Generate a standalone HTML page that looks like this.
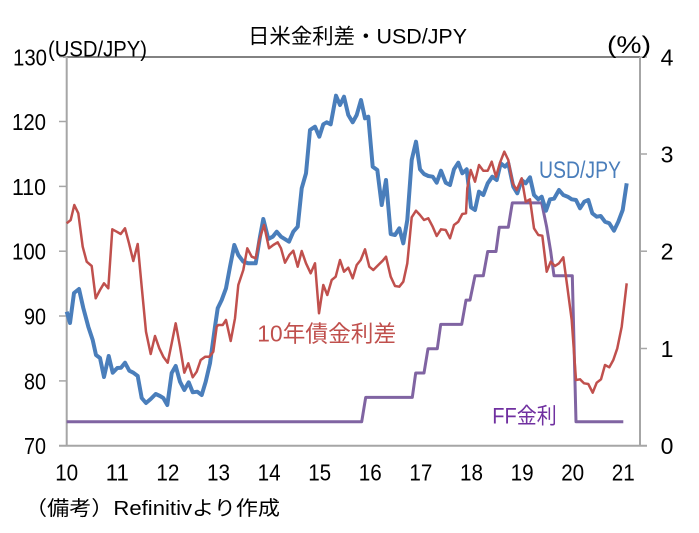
<!DOCTYPE html>
<html><head><meta charset="utf-8"><style>
html,body{margin:0;padding:0;background:#fff;}
svg{display:block;}
text{font-family:"Liberation Sans","Noto Sans CJK JP",sans-serif;}
</style></head><body>
<svg width="699" height="533" viewBox="0 0 699 533" xmlns="http://www.w3.org/2000/svg">
<rect width="699" height="533" fill="#fff"/>
<!-- title -->
<text x="248" y="43.5" font-size="21" textLength="219" lengthAdjust="spacingAndGlyphs" fill="#000">日米金利差・USD/JPY</text>
<!-- frame -->
<line x1="63" y1="57" x2="640" y2="57" stroke="#595959" stroke-width="1.5"/>
<line x1="66.7" y1="57" x2="66.7" y2="446" stroke="#a6a6a6" stroke-width="2"/>
<line x1="640" y1="57" x2="640" y2="446" stroke="#a6a6a6" stroke-width="2"/>
<line x1="59" y1="445.7" x2="647" y2="445.7" stroke="#a6a6a6" stroke-width="2"/>
<!-- left ticks -->
<g stroke="#a6a6a6" stroke-width="1.5">
<line x1="59" y1="56.7" x2="66.7" y2="56.7"/>
<line x1="59" y1="121.5" x2="66.7" y2="121.5"/>
<line x1="59" y1="186.4" x2="66.7" y2="186.4"/>
<line x1="59" y1="251.2" x2="66.7" y2="251.2"/>
<line x1="59" y1="316" x2="66.7" y2="316"/>
<line x1="59" y1="380.9" x2="66.7" y2="380.9"/>
<line x1="640" y1="154" x2="647" y2="154"/>
<line x1="640" y1="251.2" x2="647" y2="251.2"/>
<line x1="640" y1="348.5" x2="647" y2="348.5"/>
<line x1="640" y1="57" x2="647" y2="57"/>
</g>
<!-- left labels -->
<g font-size="23" fill="#000">
<text x="13" y="65.5" textLength="34" lengthAdjust="spacingAndGlyphs">130</text>
<text x="12" y="130" textLength="34" lengthAdjust="spacingAndGlyphs">120</text>
<text x="12" y="194.8" textLength="34" lengthAdjust="spacingAndGlyphs">110</text>
<text x="12" y="259.6" textLength="34" lengthAdjust="spacingAndGlyphs">100</text>
<text x="24" y="324.4" textLength="22" lengthAdjust="spacingAndGlyphs">90</text>
<text x="24" y="389.3" textLength="22" lengthAdjust="spacingAndGlyphs">80</text>
<text x="24" y="454" textLength="22" lengthAdjust="spacingAndGlyphs">70</text>
</g>
<text x="48" y="56.5" font-size="22" textLength="99" lengthAdjust="spacingAndGlyphs" fill="#000">(USD/JPY)</text>
<!-- right labels -->
<g font-size="23" fill="#000" text-anchor="middle">
<text x="667" y="65.3">4</text>
<text x="667" y="162.3">3</text>
<text x="667" y="259.5">2</text>
<text x="667" y="356.8">1</text>
<text x="667" y="454">0</text>
</g>
<text x="607" y="53" font-size="24" textLength="44" lengthAdjust="spacingAndGlyphs" fill="#000">(%)</text>
<!-- x labels -->
<g font-size="23" fill="#000" text-anchor="middle">
<text x="66.7" y="480.7" textLength="23" lengthAdjust="spacingAndGlyphs">10</text>
<text x="117.3" y="480.7" textLength="23" lengthAdjust="spacingAndGlyphs">11</text>
<text x="167.9" y="480.7" textLength="23" lengthAdjust="spacingAndGlyphs">12</text>
<text x="218.5" y="480.7" textLength="23" lengthAdjust="spacingAndGlyphs">13</text>
<text x="269.1" y="480.7" textLength="23" lengthAdjust="spacingAndGlyphs">14</text>
<text x="319.7" y="480.7" textLength="23" lengthAdjust="spacingAndGlyphs">15</text>
<text x="370.3" y="480.7" textLength="23" lengthAdjust="spacingAndGlyphs">16</text>
<text x="420.9" y="480.7" textLength="23" lengthAdjust="spacingAndGlyphs">17</text>
<text x="471.5" y="480.7" textLength="23" lengthAdjust="spacingAndGlyphs">18</text>
<text x="522.1" y="480.7" textLength="23" lengthAdjust="spacingAndGlyphs">19</text>
<text x="572.7" y="480.7" textLength="23" lengthAdjust="spacingAndGlyphs">20</text>
<text x="623.3" y="480.7" textLength="23" lengthAdjust="spacingAndGlyphs">21</text>
</g>
<!-- footer -->
<text x="25" y="515" font-size="20" textLength="255" lengthAdjust="spacingAndGlyphs" fill="#000">（備考）Refinitivより作成</text>
<!-- purple FF -->
<polyline fill="none" stroke="#8064A2" stroke-width="3" stroke-linejoin="round" points="66.7,421.7 361.7,421.7 365.7,397.4 412.3,397.4 415.7,373 424,373 428,348.7 437.3,348.7 440.7,324.4 461.7,324.4 466,300.1 470,300.1 475,275.8 483.3,275.8 487.7,251.5 496,251.5 499.3,227.2 508.3,227.2 512.3,202.9 541.7,202.9 546.7,227.2 550.7,251.5 554,275.8 572.3,275.8 576,421.7 623.3,421.7"/>
<!-- blue USD/JPY -->
<polyline fill="none" stroke="#4A7EBB" stroke-width="4" stroke-linejoin="round" points="66.7,311.7 70,323 74,293 79,289 83.3,308 88.3,326.7 92.7,340 96,355 100,358 104,377 108.7,356 112.7,372.7 117.3,368 121,367.7 125,362.7 129.3,370.7 133.3,372.7 137.7,376 141.7,398 146,403 150.7,399 155.7,394 160,396 163.3,398 167.3,405 171.7,373 175.7,366 180,381.7 184.3,390 188.7,382.3 192.7,392.3 197.3,391.7 201.7,395 205.7,381.7 210,363.3 215,326.7 217.7,308.3 221.7,300 226,288.3 230,266.7 234.3,245 238.3,255 243.3,261.7 248.3,263.3 255.7,263.3 260,236.7 263.3,219 268.3,239 272.7,236.7 276.7,231.7 281,236.7 289,241.7 293.3,231.7 297.7,226.7 301.7,188.3 306,173.3 310,130 315,126.7 319.3,136.7 323.3,124.3 326.7,122.3 330.7,124.3 336,95.7 340,105 344,96.7 348.3,115 352.7,122.3 356.7,115 361,100 365,118.3 368.3,116.7 372.7,166.7 377.3,170 381.7,205 386,180 390.7,234 395,235 399.3,228.3 403.3,243.3 407.3,220 411.7,160 416,141.7 420,169.3 424,174 428.3,176 432.7,176.7 436.7,182.7 441,170.7 445.7,182.7 450,185 454,169.3 458.3,162.7 462.3,173.3 466.7,169.3 471,207.3 475,210 479,191.7 483.3,195 487.7,183.3 492.3,176.7 496.7,180 500.7,163.3 505,166.7 508.3,163.3 513.3,186.7 517.3,193.3 521.7,180 525.7,183.3 530,177.3 534,195 538.3,199.3 541.7,196.7 546,210.7 550,199.3 554,198.7 559,190 563.3,195 567.7,196.7 571.7,199.3 576,200 580,208.3 584.3,201.7 588.3,200 592.3,213.3 596.7,216.7 600.7,216 605,221.7 609.3,223.3 614,230.7 618.3,221.7 622.7,210 626.7,183.3"/>
<!-- red 10y spread -->
<polyline fill="none" stroke="#C0504D" stroke-width="2.5" stroke-linejoin="round" points="66.7,223.3 70.7,220 74.3,205 78.3,213.3 82.7,246.7 86.7,261.7 91.7,266 95.7,298.3 100,290 104,283.3 108.3,288.3 112.3,229.3 116.7,231.7 120.7,234 125,228.3 129,243.3 133.3,261 137.7,244 141.7,286.7 146,331.7 150.7,354 155,336 159.3,348.3 163.3,356.7 167.7,362.7 171.7,343.3 175.7,323.3 180,346.7 184.3,372.7 188.3,363.3 192.7,377.3 196.7,371.7 200.7,360 205.3,356.7 209.3,356.7 213.3,351.7 216.7,326.7 218.3,325 222.7,325 226,320 230.7,341 235,318.3 238.3,285 243.3,270 247.3,248.3 251.7,256.7 255.7,258.3 259.3,240 264,225 269,248.3 273.3,245 277.7,242.3 281,248.3 285,262.7 289.3,255 293.3,250.7 297.7,266.7 301.7,251 306,263.3 310.7,273.3 315,263.3 319,313.3 323.3,285 327.3,295 331.7,280 335.7,276.7 340,260 344,271.7 348.3,267.7 352.7,278.3 356.7,265 360.7,260 365,249.3 369.3,266.7 373.3,270 378.3,265 382.7,260.7 386,256.7 390.7,276.7 395,286 399.3,286.7 403.3,281.7 407.3,263.3 411.7,217.3 416,210.7 420,215 424,220 428.3,218.3 432.7,226.7 436.7,236 441,229.3 445.7,230 450,238.3 454,225 458.3,221.7 462.3,214 466,213.3 467.3,188.3 470.7,170 475,181.7 479,165 483.3,170.7 487.7,170.7 491.7,161.7 496,176.7 500,162.7 504.3,151.7 508.3,160 512.7,183.3 516.7,190 521.7,178.3 525.7,201.7 530,199.3 534,228.3 538.3,235 542.3,235.7 546.7,271.7 550.7,261.7 555,266 559,263.3 563.3,257.3 567.3,286.7 571.7,320 576,380 580,379.3 584,383.3 588.3,384 592.7,392.7 596.7,382.7 601,379.3 605,365 609.3,367.3 613.3,360 617.3,348.3 621.7,326.7 626.7,283.3"/>
<!-- series labels -->
<text x="539" y="178" font-size="24" textLength="82" lengthAdjust="spacingAndGlyphs" fill="#4A7EBB">USD/JPY</text>
<text x="257.3" y="341.5" font-size="23" textLength="139" lengthAdjust="spacingAndGlyphs" fill="#C0504D">10年債金利差</text>
<text x="492.3" y="423.5" font-size="22" textLength="64.5" lengthAdjust="spacingAndGlyphs" fill="#7030A0">FF金利</text>
</svg>
</body></html>
